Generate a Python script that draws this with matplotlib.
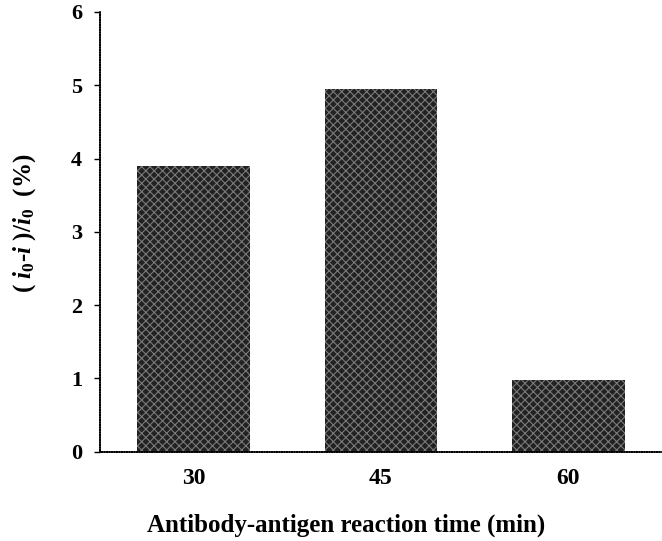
import matplotlib.pyplot as plt
import numpy as np

# Reaction time groups and measured relative current decrease
reaction_times = ['30', '45', '60']
current_drop = [3.9, 4.95, 0.98]
y_ticks = [0, 1, 2, 3, 4, 5, 6]

plt.rcParams['font.family'] = ['Liberation Serif', 'DejaVu Serif']
plt.rcParams['font.weight'] = 'bold'
plt.rcParams['mathtext.fontset'] = 'custom'
plt.rcParams['mathtext.it'] = 'Liberation Serif:italic:bold'
plt.rcParams['mathtext.rm'] = 'Liberation Serif:bold'
plt.rcParams['hatch.linewidth'] = 0.8

fig = plt.figure(figsize=(6.62, 5.41), dpi=100)
ax = fig.add_axes([0.151, 0.165, 0.849, 0.813])

x = np.arange(len(reaction_times))
ax.bar(x, current_drop, width=0.6, color='#222222', edgecolor='#7a7a7a',
       hatch='xxxx', linewidth=0)

ax.set_xlim(-0.5, 2.5)
ax.set_ylim(0, 6)
ax.set_yticks(y_ticks)
ax.set_xticks(x)
ax.set_xticklabels(reaction_times)

for side in ['top', 'right']:
    ax.spines[side].set_visible(False)
ax.spines['left'].set_linewidth(1.2)
ax.spines['bottom'].set_linewidth(1.2)
ax.spines['left'].set_linestyle((0, (1, 0.5)))
ax.spines['bottom'].set_linestyle((0, (1, 0.5)))

ax.tick_params(axis='x', length=0, pad=12, labelsize=17)
ax.tick_params(axis='y', length=4, width=1, direction='out', pad=9, labelsize=16)

ax.set_xlabel('Antibody-antigen reaction time (min)', fontsize=18,
              fontweight='bold')
ax.xaxis.set_label_coords(0.4386, -0.14)
ax.set_ylabel(r'$(\ \mathit{i}_{0}$-$\mathit{i}\ )/\mathit{i}_{0}$  (%)', fontsize=18,
              fontweight='bold')
ax.yaxis.set_label_coords(-0.11, 0.52)

fig.savefig('out.png', dpi=100)
